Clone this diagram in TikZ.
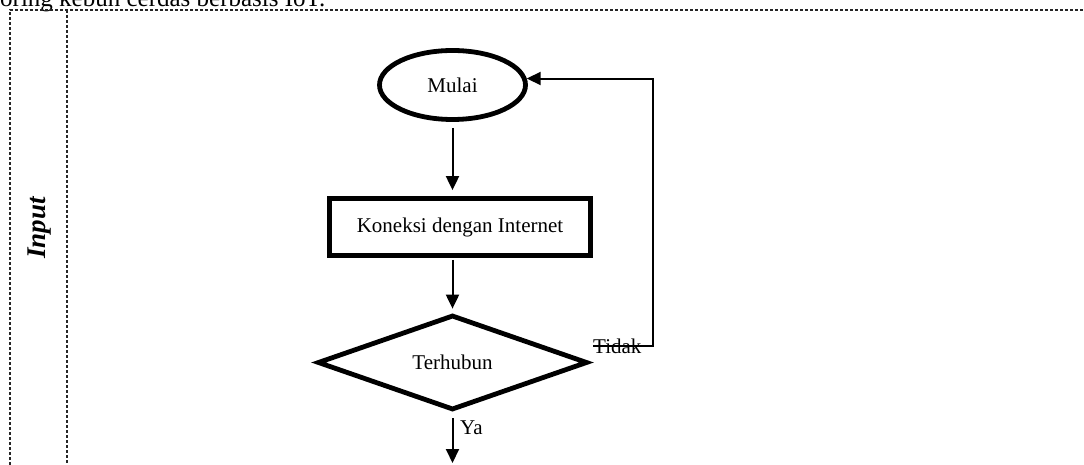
\documentclass[tikz,border=0pt]{standalone}
\usepackage{fontspec}
\setmainfont{Liberation Serif}
\usetikzlibrary{shapes.geometric,arrows.meta}
\begin{document}
\begin{tikzpicture}[x=1pt,y=-1pt,
  frame/.style={draw=black!85, line width=1.2pt, dash pattern=on 3pt off 2pt},
  thickbox/.style={draw, line width=4.8pt},
  conn/.style={line width=2pt},
  arr/.style={conn,-{Triangle[length=14pt,width=13pt]}},
  lbl/.style={font=\fontsize{21}{25}\selectfont, inner sep=0pt}]
\useasboundingbox (0,0) rectangle (1084,465);
\begin{scope}
\clip (0,0) rectangle (1084,465);
\node[anchor=base west, inner sep=0pt, font=\fontsize{25}{30}\selectfont] (title) at (0,7) {oring kebun cerdas berbasis IoT.};
\draw[frame] (10,470) -- (10,10) -- (1090,10);
\draw[frame] (67,10) -- (67,470);
\end{scope}
\node[rotate=90, inner sep=0pt, font=\bfseries\itshape\fontsize{27}{30}\selectfont] (input) at (40,228) {Input};

\node[ellipse, thickbox, minimum width=146pt, minimum height=69pt, lbl] (mulai) at (452.5,85) {Mulai};
\node[rectangle, thickbox, minimum width=261pt, minimum height=57pt, lbl] (koneksi) at (460,227) {Koneksi dengan Internet};
\node[diamond, thickbox, minimum width=270pt, minimum height=88pt, lbl] (terhubun) at (452.5,362.5) {Terhubun};

\draw[arr, shorten <=6pt, shorten >=6pt] (mulai.south) -- (mulai.south |- koneksi.north);
\draw[arr, shorten <=2pt, shorten >=4pt] (terhubun.north |- koneksi.south) -- (terhubun.north);

\coordinate (yaend) at (452.5,463);
\draw[arr, shorten <=6pt] (terhubun.south) -- (yaend);
\node[lbl, anchor=west] (ya) at (460,428) {Ya};

\node[lbl, anchor=west] (tidak) at (593,346) {Tidak};
\coordinate (back) at (652.5,80);
\draw[arr] (tidak.west) -| (back |- mulai.5) -- (mulai.5);
\end{tikzpicture}
\end{document}
